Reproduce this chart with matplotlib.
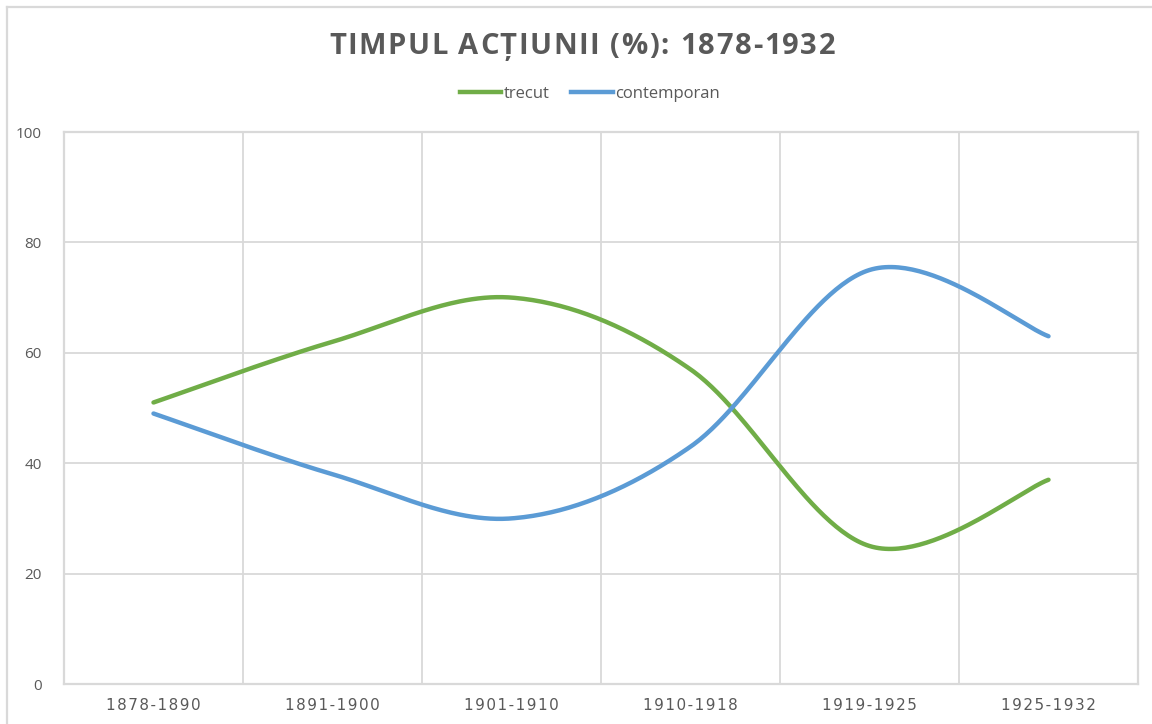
import numpy as np
import matplotlib
matplotlib.use("Agg")
import matplotlib.pyplot as plt
from matplotlib.lines import Line2D

categories = ["1878-1890", "1891-1900", "1901-1910", "1910-1918", "1919-1925", "1925-1932"]
trecut = [51, 62, 70, 57, 25, 37]
contemporan = [49, 38, 30, 43, 75, 63]
yticks = [0, 20, 40, 60, 80, 100]

GREEN = "#70AD47"
BLUE = "#5B9BD5"
GRID = "#D9D9D9"
TXT = "#595959"


def smooth(xs, ys, n=60):
    xs = np.asarray(xs, float)
    ys = np.asarray(ys, float)
    P = np.column_stack([xs, ys])
    Pp = np.vstack([P[0], P, P[-1]])
    out = []
    for i in range(len(P) - 1):
        p0, p1, p2, p3 = Pp[i], Pp[i + 1], Pp[i + 2], Pp[i + 3]
        c1 = p1 + (p2 - p0) / 6.0
        c2 = p2 - (p3 - p1) / 6.0
        t = np.linspace(0, 1, n)[:, None]
        seg = ((1 - t) ** 3) * p1 + 3 * ((1 - t) ** 2) * t * c1 + 3 * (1 - t) * t ** 2 * c2 + t ** 3 * p2
        out.append(seg if i == 0 else seg[1:])
    seg = np.vstack(out)
    return seg[:, 0], seg[:, 1]


def spaced(s, sep="\u200a"):
    return sep.join(list(s))


W, H = 1152, 724
fig = plt.figure(figsize=(11.52, 7.24), dpi=100)
renderer = fig.canvas.get_renderer()


def tracked_text(s, cx_px, cy_px, track_px, **kw):
    def width(t):
        tmp = fig.text(0, 0, t + "|", **kw)
        w = tmp.get_window_extent(renderer).width
        tmp.remove()
        return w
    bar = width("")
    offs = [width(s[:i]) - bar for i in range(len(s) + 1)]
    total = offs[-1] + track_px * (len(s) - 1)
    x0 = cx_px - total / 2
    for i, ch in enumerate(s):
        if ch == " ":
            continue
        fig.text((x0 + offs[i] + track_px * i) / W, 1 - cy_px / H, ch, ha="left", va="baseline", **kw)


ax = fig.add_axes([64 / W, 1 - 684 / H, (1138 - 64) / W, (684 - 132) / H])

x = np.arange(len(categories))
for ys, col, lab in [(trecut, GREEN, "trecut"), (contemporan, BLUE, "contemporan")]:
    sx, sy = smooth(x, ys)
    ax.plot(sx, sy, color=col, lw=3.2, solid_capstyle="round", label=lab, zorder=3)

ax.set_xlim(-0.5, len(categories) - 0.5)
ax.set_ylim(0, 100)
ax.set_yticks(yticks)
ax.set_yticklabels([str(v) for v in yticks], fontsize=11, color=TXT, family="Open Sans")
ax.set_xticks(x)
ax.set_xticklabels([spaced(c) for c in categories], fontsize=11, color=TXT, family="DejaVu Sans")
ax.tick_params(length=0, pad=10)
ax.tick_params(axis="y", pad=16)
for xv in np.arange(0.5, len(categories) - 0.5, 1):
    ax.axvline(xv, color=GRID, lw=1.3, zorder=1)
for yv in yticks[1:-1]:
    ax.axhline(yv, color=GRID, lw=1.3, zorder=1)
for s in ax.spines.values():
    s.set_color(GRID)
    s.set_linewidth(1.6)

title = "TIMPUL ACȚIUNII (%): 1878-1932"
tracked_text(title, 582, 54, 1.6, fontsize=21, fontweight="bold", color=TXT, family="Open Sans")

handles = [Line2D([], [], color=GREEN, lw=3.2), Line2D([], [], color=BLUE, lw=3.2)]
fig.legend(handles, ["trecut", "contemporan"], loc="center", bbox_to_anchor=(590 / W, 1 - 94 / H),
           ncol=2, frameon=False, handlelength=2.5, handletextpad=0.15, columnspacing=1.3,
           labelcolor=TXT, prop={"family": "Open Sans", "size": 12})

# chart border
fig.add_artist(Line2D([7 / W, 7 / W], [0, 1 - 7 / H], color=GRID, lw=1.6, transform=fig.transFigure))
fig.add_artist(Line2D([7 / W, 1], [1 - 7 / H, 1 - 7 / H], color=GRID, lw=1.6, transform=fig.transFigure))

fig.savefig("out.png", dpi=100, facecolor="white")
